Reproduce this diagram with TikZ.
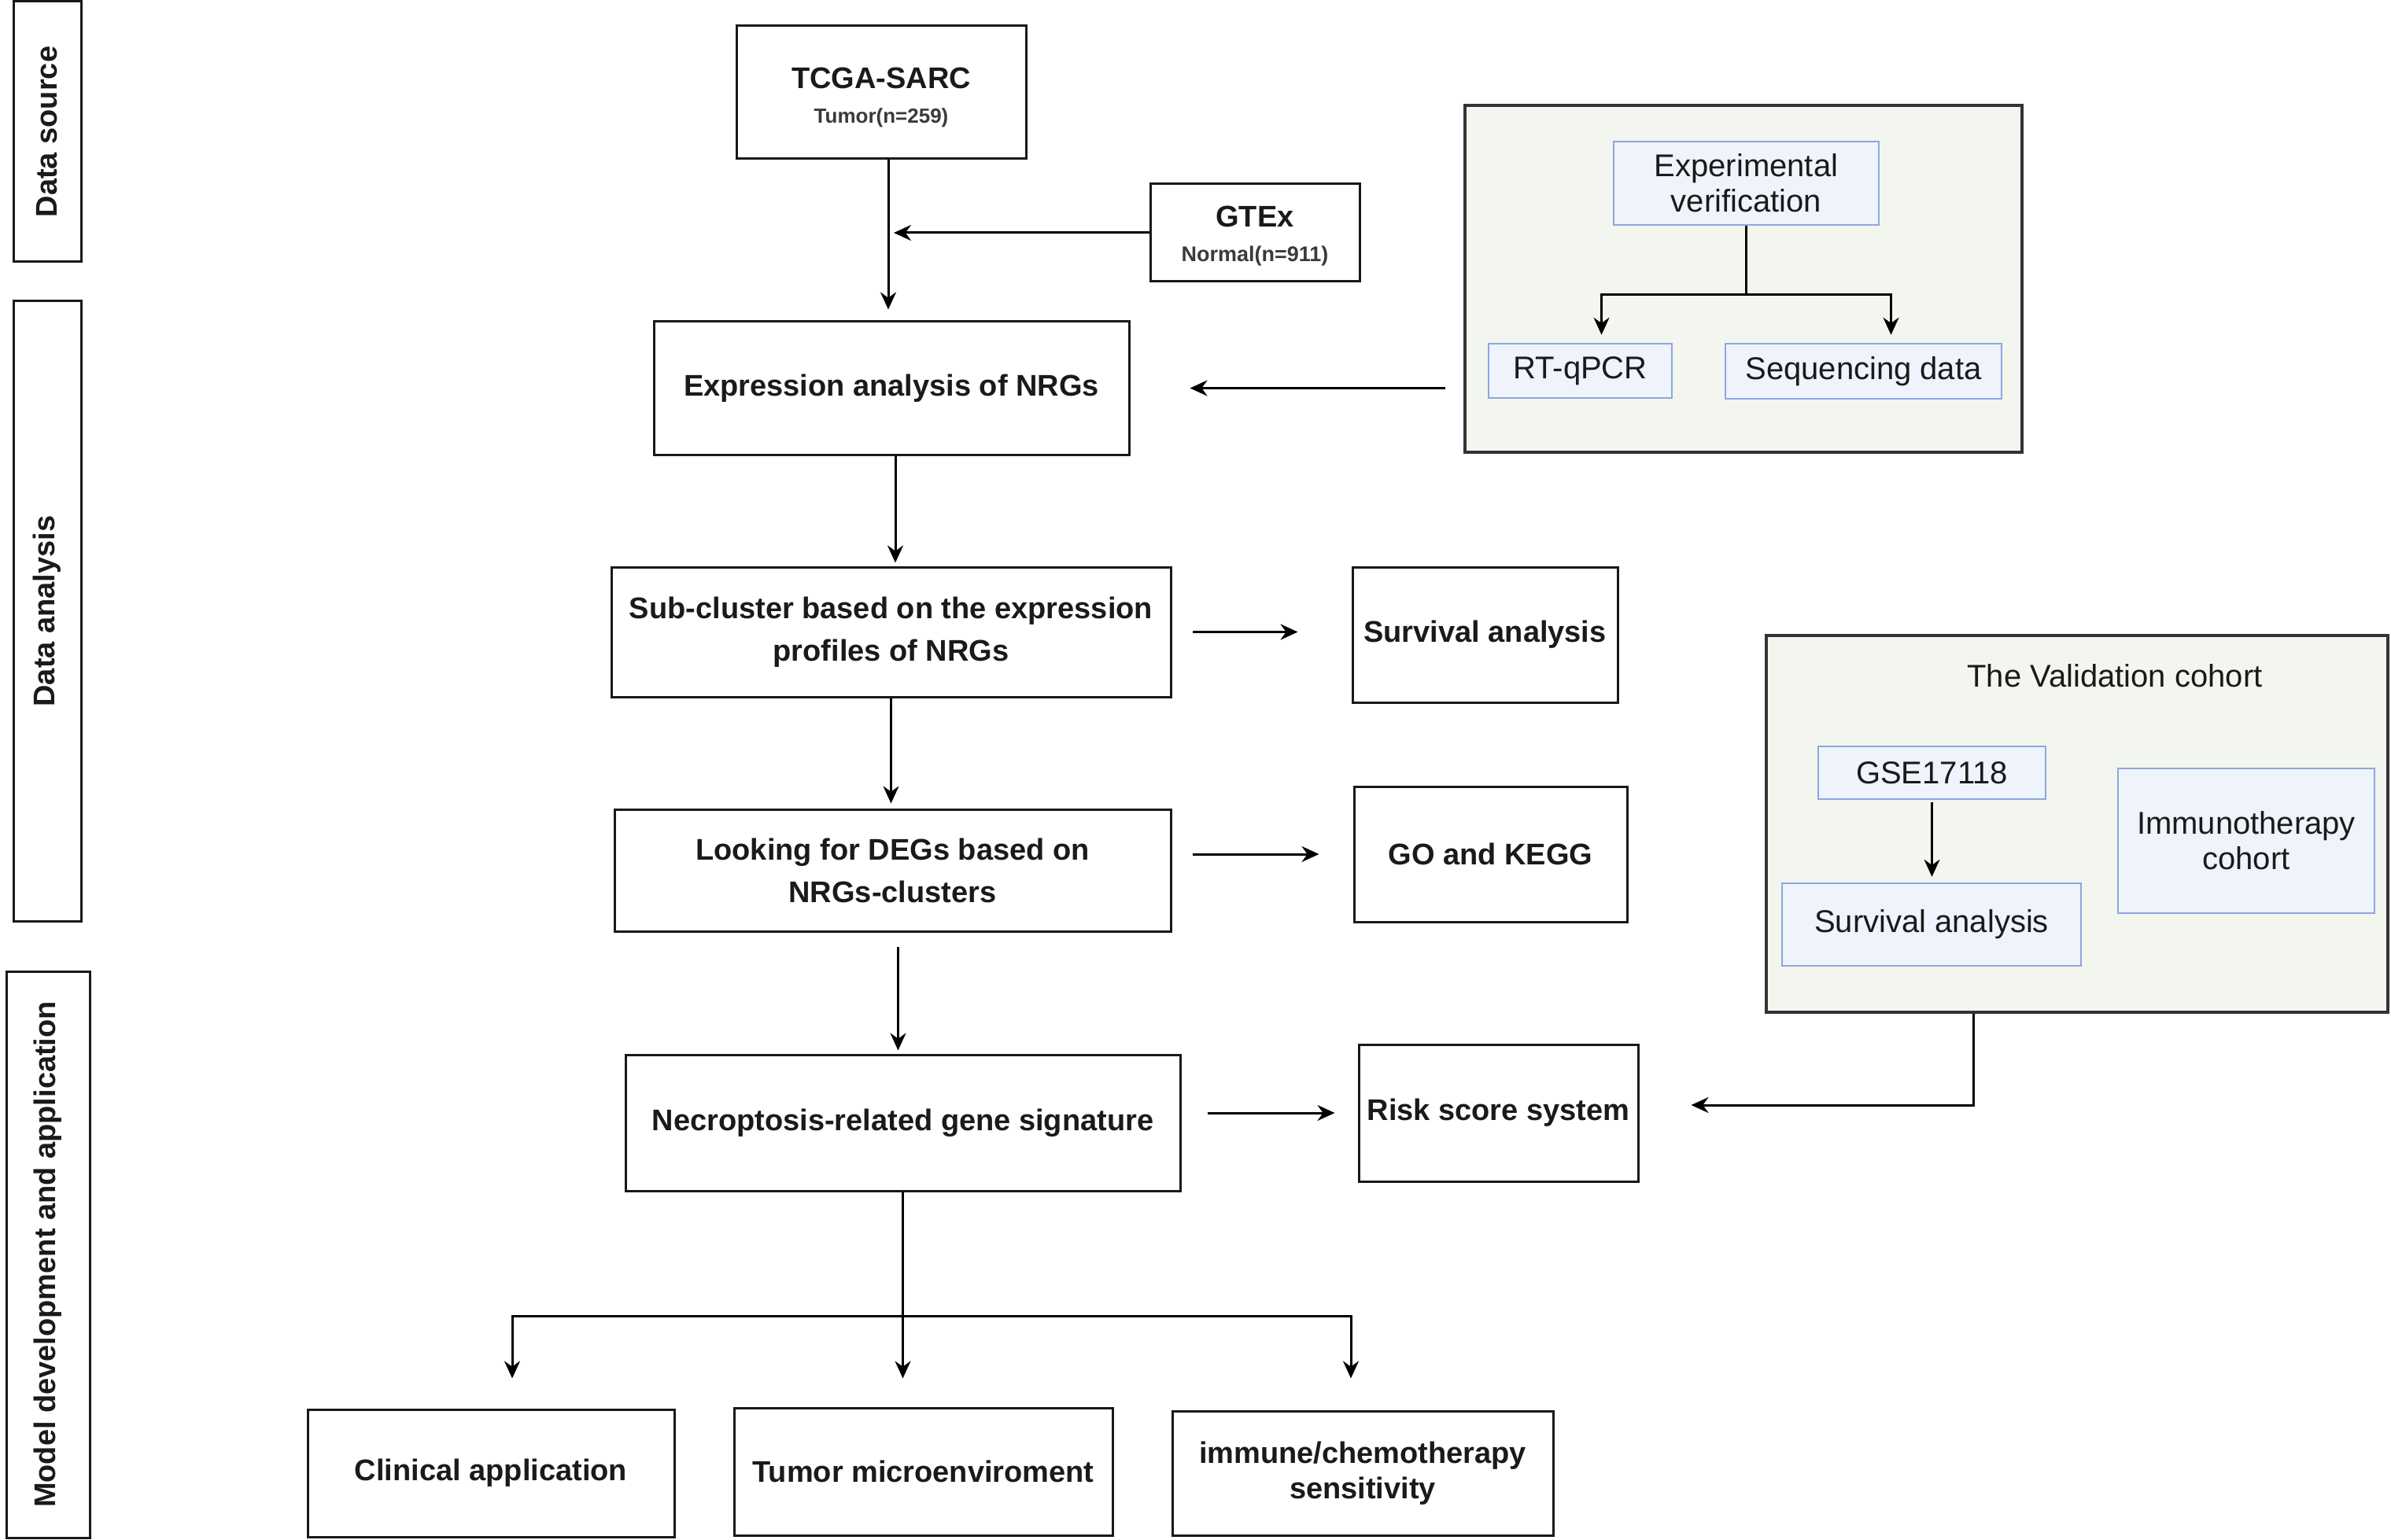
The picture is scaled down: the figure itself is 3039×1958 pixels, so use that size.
\documentclass[tikz,border=0pt]{standalone}
\usepackage{fontspec}
\setmainfont{Liberation Sans}
\usetikzlibrary{arrows.meta,calc}
\definecolor{txt}{HTML}{1A1A1A}
\definecolor{subtxt}{HTML}{3A3A3A}
\definecolor{bluedraw}{HTML}{8EA6DE}
\definecolor{bluefill}{HTML}{EEF3FC}
\definecolor{greendraw}{HTML}{333333}
\definecolor{greenfill}{HTML}{F2F6EE}
\begin{document}
\begin{tikzpicture}[x=1pt,y=-1pt,
  sz/.style 2 args={minimum width=#1pt, minimum height=#2pt},
  bbox/.style={draw=black!90, line width=3pt, inner sep=0pt, align=center,
    font=\fontsize{38}{54}\selectfont\bfseries, text=txt},
  blbox/.style={draw=bluedraw, fill=bluefill, line width=2.5pt, inner sep=0pt,
    align=center, font=\fontsize{40}{45}\selectfont, text=txt},
  grbox/.style={draw=greendraw, fill=greenfill, line width=4pt, inner sep=0pt},
  side/.style={draw=black!90, line width=3pt, inner sep=0pt, rotate=90,
    font=\fontsize{38}{44}\selectfont\bfseries, text=txt},
  arr/.style={line width=3pt, -{Stealth[length=22pt,width=20pt]}},
  ln/.style={line width=3pt}
]
\useasboundingbox (0,0) rectangle (3039,1958);

% side bars
\node[side, sz={331}{86}] (ds) at (60,167.5) {Data source};
\node[side, sz={788}{86}] (da) at (60,777) {Data analysis};
\node[side, sz={720}{106}] (md) at (61,1595) {Model development and application};

% main column
\node[bbox, sz={368}{169}] (tcga) at (1120,117.5)
  {\fontsize{38}{46}\selectfont\rule{0pt}{39pt}TCGA-SARC\\[-10pt]{\fontsize{26}{30}\selectfont\color{subtxt}Tumor(n=259)}};
\node[bbox, sz={266}{124}] (gtex) at (1595,296)
  {\fontsize{38}{46}\selectfont\rule{0pt}{35pt}GTEx\\[-10pt]{\fontsize{27}{30}\selectfont\color{subtxt}Normal(n=911)}};
\node[bbox, sz={604}{169}] (expr) at (1133,493.5) {Expression analysis of NRGs};
\node[bbox, sz={711}{165}] (sub) at (1132.5,803.5) {Sub-cluster based on the expression\\profiles of NRGs};
\node[bbox, sz={337}{172}] (surv) at (1887.5,807) {Survival analysis};
\node[bbox, sz={707}{155}] (degs) at (1134.5,1106.5) {Looking for DEGs based on\\NRGs-clusters};
\node[bbox, sz={347}{172}] (go) at (1894.5,1086) {GO and KEGG};
\node[bbox, sz={705}{173}] (necro) at (1147.5,1427.5) {Necroptosis-related gene signature};
\node[bbox, sz={355}{174}] (risk) at (1904.5,1415) {Risk score system};
\node[bbox, sz={466}{162}] (clin) at (624,1873) {Clinical application};
\node[bbox, sz={481}{162}] (tumor) at (1173.5,1871) {Tumor microenviroment};
\node[bbox, sz={484}{158}, font=\fontsize{38}{45}\selectfont\bfseries] (imm) at (1732,1873) {immune/chemotherapy\\sensitivity};

% experimental verification panel
\node[grbox, sz={708}{441}] (green1) at (2216,354.5) {};
\node[blbox, sz={337}{106}] (expver) at (2219.5,233) {Experimental\\verification};
\node[blbox, sz={233}{69}] (rtq) at (2008.5,471.5) {RT-qPCR};
\node[blbox, sz={351}{70}] (seq) at (2368.5,472) {Sequencing data};

% validation panel
\node[grbox, sz={790}{479}] (valid) at (2640,1047.5) {};
\node[font=\fontsize{40}{45}\selectfont, text=txt] (vtitle) at (2688,859) {The Validation cohort};
\node[blbox, sz={289}{67}] (gse) at (2455.5,982.5) {GSE17118};
\node[blbox, sz={380}{105}] (vsurv) at (2455,1175.5) {Survival analysis};
\node[blbox, sz={326}{184}] (immuno) at (2855,1069) {Immunotherapy\\cohort};

% connectors
\draw[arr, shorten >=14pt] ([xshift=9pt]tcga.south) -- ([xshift=9pt]tcga.south |- expr.north);
\coordinate (j1) at ([xshift=9pt]tcga.south |- gtex.west);
\draw[arr, shorten >=7pt] (gtex.west) -- (j1);
\draw[arr, shorten >=76pt] ([xshift=-23pt]green1.west |- expr.east) -- (expr.east);

\draw[ln] (expver.south) -- ++(0,87) coordinate (b1);
\draw[arr, shorten >=10pt] (b1) -| ([xshift=27pt]rtq.north);
\draw[arr, shorten >=10pt] (b1) -| ([xshift=35pt]seq.north);

\draw[arr, shorten >=4pt] ([xshift=5pt]expr.south) -- ([xshift=5pt]expr.south |- sub.north);
\draw[arr, shorten <=26pt, shorten >=68pt] (sub.east) -- (sub.east -| surv.west);
\draw[arr, shorten >=6pt] (sub.south) -- (sub.south |- degs.north);
\draw[arr, shorten <=26pt, shorten >=43pt] (degs.east |- go.west) -- (go.west);
\draw[arr, shorten <=18pt, shorten >=4pt] ([xshift=7pt]degs.south) -- ([xshift=7pt]degs.south |- necro.north);
\draw[arr, shorten <=33pt, shorten >=29pt] (necro.east |- risk.west) -- (risk.west);
\draw[arr, shorten >=66pt] ([xshift=-132pt]valid.south) |- ([yshift=10pt]risk.east);
\draw[arr, shorten <=3pt, shorten >=7pt] (gse.south) -- (gse.south |- vsurv.north);

\draw[ln] (necro.south) -- ++(0,158) coordinate (hb);
\draw[arr, shorten >=38pt] (hb) -| ([xshift=27pt]clin.north);
\draw[arr, shorten >=36pt] (hb) -- (hb |- tumor.north);
\draw[arr, shorten >=40pt] (hb) -| ([xshift=-15pt]imm.north);
\end{tikzpicture}
\end{document}
